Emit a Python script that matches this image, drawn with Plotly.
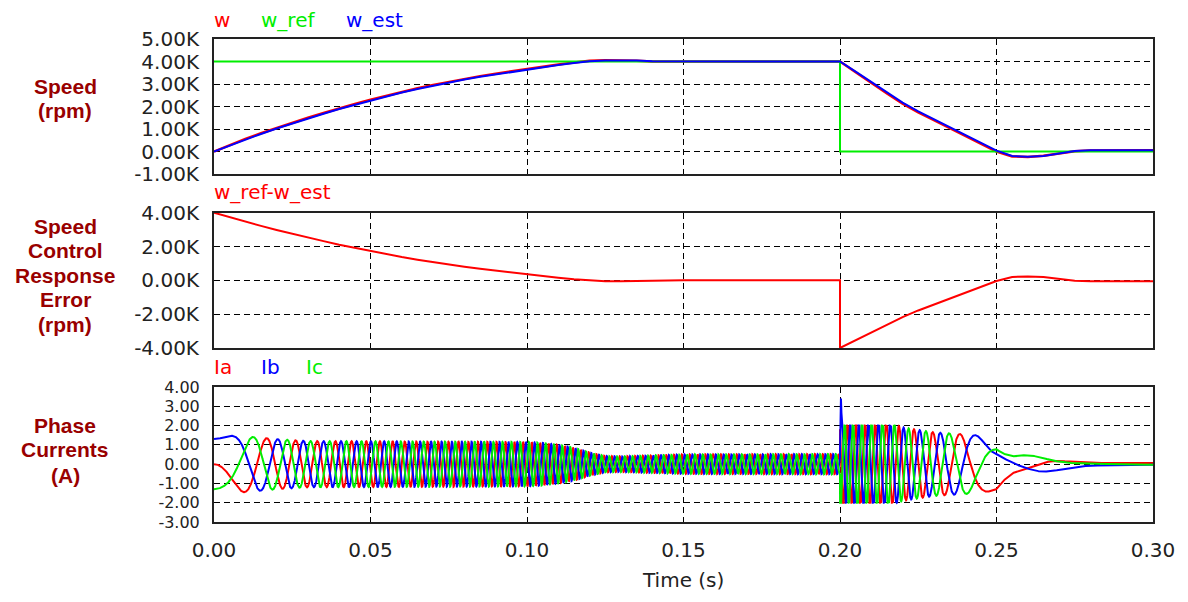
import numpy as np
import plotly.graph_objects as go

# ---------------- data ----------------
# time base of the speed traces (s); 0.20 is repeated for the reference step
t_spd = [0, .005, .01, .015, .02, .025, .03, .035, .04, .045, .05, .055, .06, .065,
         .07, .075, .08, .085, .09, .095, .10, .105, .11, .115, .12, .125, .13, .135,
         .14, .15, .16, .17, .18, .19, .20, .20, .205, .21, .215, .22, .225, .23,
         .235, .24, .245, .25, .255, .26, .265, .27, .275, .28, .29, .30]

# estimated speed w_est (rpm)
w_est = [0, 270, 530, 780, 1020, 1250, 1470, 1680, 1890, 2080, 2270, 2450, 2620, 2780,
         2930, 3070, 3200, 3320, 3430, 3540, 3640, 3740, 3840, 3930, 4010, 4050, 4060, 4040,
         4010, 4000, 4000, 4000, 4000, 4000, 4000, 4000, 3550, 3080, 2620, 2170, 1780, 1430,
         1080, 730, 380, 40, -200, -230, -200, -80, 20, 60, 60, 60]

# actual speed w (rpm)
w_act = [0, 290, 560, 810, 1050, 1280, 1500, 1710, 1920, 2110, 2300, 2480, 2650, 2810,
         2960, 3100, 3230, 3350, 3460, 3570, 3670, 3770, 3870, 3960, 4030, 4060, 4060, 4030,
         4000, 4000, 4000, 4000, 4000, 4000, 4000, 4000, 3520, 3040, 2580, 2130, 1740, 1390,
         1040, 690, 340, 0, -220, -240, -190, -90, 10, 50, 60, 60]

# speed reference w_ref (rpm): 4000 until the step at 0.20 s, then 0
w_ref = [4000] * 35 + [0] * 19

# phase-current envelope (A)
env_t = [0, .01, .02, .03, .10, .105, .11, .115, .12, .125, .13, .14, .15, .20, .20,
         .215, .22, .23, .24, .247, .25, .252, .255, .26, .265, .27, .275, .28, .30]
env_a = [1.5, 1.45, 1.3, 1.2, 1.15, 1.1, 1.0, 0.85, 0.6, 0.42, 0.4, 0.45, 0.5, 0.52, 2.3,
         2.2, 1.9, 1.65, 1.55, 1.45, 1.3, 0.9, 0.5, 0.45, 0.42, 0.3, 0.15, 0.08, 0.06]

# current spike of Ib at the speed step
ib_spike_t = [0.2, 0.2003, 0.2006]
ib_spike_v = [0.6, 3.4, 2.0]

POLE_PAIRS = 6
DECEL_PHASE_DEG = -52.0
CURRENT_LIMIT = 2.0

# axis ticks
x_ticks = [0, 0.05, 0.10, 0.15, 0.20, 0.25, 0.30]
x_ticktext = ["0.00", "0.05", "0.10", "0.15", "0.20", "0.25", "0.30"]
y1_ticks = [-1000, 0, 1000, 2000, 3000, 4000, 5000]
y1_ticktext = ["-1.00K", "0.00K", "1.00K", "2.00K", "3.00K", "4.00K", "5.00K"]
y2_ticks = [-4000, -2000, 0, 2000, 4000]
y2_ticktext = ["-4.00K", "-2.00K", "0.00K", "2.00K", "4.00K"]
y3_ticks = [-3, -2, -1, 0, 1, 2, 3, 4]
y3_ticktext = ["-3.00", "-2.00", "-1.00", "0.00", "1.00", "2.00", "3.00", "4.00"]

# ---------------- derived series ----------------
err = [r - e for r, e in zip(w_ref, w_est)]

t = np.linspace(0, 0.3, 15001)
w_i = np.abs(np.interp(t, t_spd, w_est))
cum = np.concatenate([[0.0], np.cumsum(0.5 * (w_i[1:] + w_i[:-1]) * np.diff(t))])
i200 = int(np.searchsorted(t, 0.2))
k = 6.0 * POLE_PAIRS
theta_deg = np.where(t < 0.2, k * cum, DECEL_PHASE_DEG + k * (cum - cum[i200]))
th = np.radians(theta_deg)
amp = np.interp(t, env_t, env_a)
ia = np.clip(-amp * np.sin(th), -CURRENT_LIMIT, CURRENT_LIMIT)
ib = np.clip(-amp * np.sin(th - 2 * np.pi / 3), -CURRENT_LIMIT, CURRENT_LIMIT)
ic = np.clip(-amp * np.sin(th + 2 * np.pi / 3), -CURRENT_LIMIT, CURRENT_LIMIT)
m = (t >= ib_spike_t[0]) & (t <= ib_spike_t[-1])
ib[m] = np.interp(t[m], ib_spike_t, ib_spike_v)

# ---------------- figure ----------------
RED, GREEN, BLUE = "#ff0000", "#00ee00", "#0000ff"
LBL = "#990000"
FONT = "DejaVu Sans"

fig = go.Figure()
fig.add_trace(go.Scatter(x=t_spd, y=w_act, mode="lines", line=dict(color=RED, width=2.5),
                         xaxis="x", yaxis="y", showlegend=False))
fig.add_trace(go.Scatter(x=t_spd, y=w_ref, mode="lines", line=dict(color=GREEN, width=2),
                         xaxis="x", yaxis="y", showlegend=False))
fig.add_trace(go.Scatter(x=t_spd, y=w_est, mode="lines", line=dict(color=BLUE, width=2),
                         xaxis="x", yaxis="y", showlegend=False))
fig.add_trace(go.Scatter(x=t_spd, y=err, mode="lines", line=dict(color=RED, width=2),
                         xaxis="x2", yaxis="y2", showlegend=False))
fig.add_trace(go.Scatter(x=t, y=ia, mode="lines", line=dict(color=RED, width=2),
                         xaxis="x3", yaxis="y3", showlegend=False))
fig.add_trace(go.Scatter(x=t, y=ib, mode="lines", line=dict(color=BLUE, width=2),
                         xaxis="x3", yaxis="y3", showlegend=False))
fig.add_trace(go.Scatter(x=t, y=ic, mode="lines", line=dict(color=GREEN, width=2),
                         xaxis="x3", yaxis="y3", showlegend=False))

L, R, TOP, BOT = 214, 1153, 39, 522
W, H = 1188, 602


def xp(px):
    return (px - L) / (R - L)


def yp(py):
    return (BOT - py) / (BOT - TOP)


grid = dict(showgrid=True, gridcolor="#000000", gridwidth=1, griddash="6px,4px",
            zeroline=False, showline=True, mirror=True, linecolor="#222222", linewidth=2,
            ticks="", ticklabelstandoff=9)
tf = dict(family=FONT, size=20, color="#222222")
tf_small = dict(family=FONT, size=16, color="#222222")

xcommon = dict(range=[0, 0.3], tickmode="array", tickvals=x_ticks, ticktext=x_ticktext,
               tickfont=tf, **grid)
fig.update_layout(
    width=W, height=H, autosize=False,
    margin=dict(l=L, r=W - R, t=TOP, b=H - BOT, pad=0),
    paper_bgcolor="white", plot_bgcolor="white",
    font=dict(family=FONT, size=20, color="#222222"),
    xaxis=dict(anchor="y", domain=[0, 1], showticklabels=False, **xcommon),
    xaxis2=dict(anchor="y2", domain=[0, 1], matches="x", showticklabels=False, **xcommon),
    xaxis3=dict(anchor="y3", domain=[0, 1], matches="x", showticklabels=True, **xcommon),
    yaxis=dict(domain=[yp(174), 1.0], range=[-1000, 5000], tickmode="array",
               tickvals=y1_ticks, ticktext=y1_ticktext, tickfont=tf, **grid),
    yaxis2=dict(domain=[yp(348), yp(212.7)], range=[-4000, 4000], tickmode="array",
                tickvals=y2_ticks, ticktext=y2_ticktext, tickfont=tf, **grid),
    yaxis3=dict(domain=[0, yp(387)], range=[-3, 4], tickmode="array",
                tickvals=y3_ticks, ticktext=y3_ticktext, tickfont=tf_small, **grid),
)

ann = []


def add(text, x, y, color, size=20, family=FONT, xanchor="left"):
    ann.append(dict(text=text, x=xp(x), y=yp(y), xref="paper", yref="paper",
                    xanchor=xanchor, yanchor="middle", showarrow=False,
                    font=dict(family=family, size=size, color=color)))


# series labels above panels
add("w", 212, 20, RED)
add("w_ref", 259, 20, GREEN)
add("w_est", 344, 20, BLUE)
add("w_ref-w_est", 212, 192, RED)
add("Ia", 212, 367, RED)
add("Ib", 259, 367, BLUE)
add("Ic", 304, 367, GREEN)

# panel titles on the left
BF = "Liberation Sans, Arial"
for txt, yy in [("Speed", 86), ("(rpm)", 111)]:
    add("<b>%s</b>" % txt, 65, yy, LBL, size=21, family=BF, xanchor="center")
for txt, yy in [("Speed", 226), ("Control", 250.5), ("Response", 275), ("Error", 299.5),
                ("(rpm)", 325)]:
    add("<b>%s</b>" % txt, 65, yy, LBL, size=21, family=BF, xanchor="center")
for txt, yy in [("Phase", 425), ("Currents", 449.5), ("(A)", 475)]:
    add("<b>%s</b>" % txt, 65, yy, LBL, size=21, family=BF, xanchor="center")

add("Time (s)", 683, 580, "#222222", xanchor="center")

fig.update_layout(annotations=ann)
fig.write_html("out.html", config={"displayModeBar": False},
               post_script="document.body.style.margin='0';")
